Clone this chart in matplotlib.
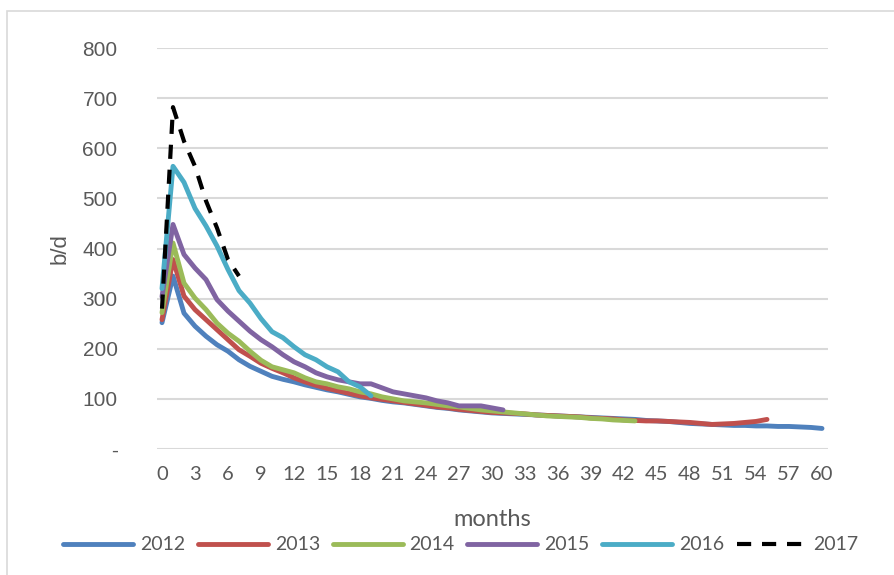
import matplotlib
matplotlib.use("Agg")
import matplotlib.pyplot as plt
from matplotlib.patches import Rectangle
from matplotlib.ticker import FixedLocator, FuncFormatter

series_names = ["2012", "2013", "2014", "2015", "2016", "2017"]

v2012 = [252, 345, 271, 245, 225, 208, 195, 178, 165, 155, 145, 139, 134, 128, 123, 118,
         114, 109, 104, 101, 97, 94, 92, 89, 86, 83, 81, 78, 76, 74, 72, 71, 70, 69, 68,
         67, 66, 65, 64, 63, 62, 61, 60, 59, 57, 56, 55, 53, 51, 50, 49, 48, 47, 47, 46,
         46, 45, 45, 44, 43, 41]
v2013 = [258, 378, 305, 278, 258, 238, 218, 198, 185, 171, 161, 152, 142, 134, 127, 121,
         116, 111, 106, 102, 99, 96, 93, 90, 87, 84, 82, 79, 77, 75, 73, 72, 71, 70, 68,
         67, 66, 65, 64, 62, 61, 60, 58, 57, 56, 56, 55, 54, 53, 51, 49, 50, 51, 53, 55, 59]
v2014 = [272, 411, 331, 301, 278, 251, 231, 215, 195, 177, 164, 158, 152, 142, 134, 130,
         124, 120, 114, 110, 104, 100, 96, 94, 92, 89, 86, 84, 81, 78, 76, 74, 72, 70, 68,
         66, 65, 64, 63, 61, 60, 58, 57, 56]
v2015 = [304, 448, 388, 361, 338, 298, 275, 255, 235, 218, 204, 188, 174, 164, 152, 144,
         138, 134, 130, 130, 122, 114, 110, 106, 102, 96, 92, 86, 86, 86, 82, 78]
v2016 = [320, 564, 532, 480, 445, 405, 358, 316, 291, 260, 234, 222, 204, 188, 178, 164,
         154, 134, 124, 106]
v2017 = [280, 682, 614, 564, 495, 441, 378, 345]

all_values = [v2012, v2013, v2014, v2015, v2016, v2017]
colors = ["#4F81BD", "#C0504D", "#9BBB59", "#8064A2", "#4BACC6", "#000000"]

x_ticks = list(range(0, 61, 3))
y_ticks = list(range(0, 801, 100))

W, H = 894, 575
fig = plt.figure(figsize=(W / 100, H / 100), dpi=100)
narrow = ["Lato", "DejaVu Sans"]
regular = ["Liberation Sans", "DejaVu Sans"]
txt_color = "#595959"

# chart-area border (only top and left visible in the crop)
fig.patches.append(Rectangle((7 / W, -0.1), 1.2, 1 - 11 / H + 0.1, transform=fig.transFigure,
                             fill=False, edgecolor="#d9d9d9", linewidth=1.2))

left, right = 156.5 / W, 827.5 / W
bottom, top = 1 - 449 / H, 1 - 48 / H
ax = fig.add_axes([left, bottom, right - left, top - bottom])

for name, vals, c in zip(series_names, all_values, colors):
    xs = list(range(len(vals)))
    if name == "2017":
        ax.plot(xs, vals, color=c, linewidth=3.0, linestyle=(0, (3.4, 2.6)),
                dash_capstyle="butt", label=name, zorder=5)
    else:
        ax.plot(xs, vals, color=c, linewidth=3.5, solid_capstyle="round",
                solid_joinstyle="round", label=name, zorder=3)

ax.set_xlim(-0.5, 60.5)
ax.set_ylim(0, 800)
ax.xaxis.set_major_locator(FixedLocator(x_ticks))
ax.yaxis.set_major_locator(FixedLocator(y_ticks))
ax.yaxis.set_major_formatter(FuncFormatter(lambda v, p: "-" if v == 0 else f"{int(v)}"))
ax.grid(axis="y", color="#d9d9d9", linewidth=1.5)
ax.set_axisbelow(True)
for s in ax.spines.values():
    s.set_visible(False)
ax.tick_params(axis="both", length=0)
ax.tick_params(axis="y", pad=28, labelsize=15, labelcolor=txt_color)
ax.tick_params(axis="x", pad=12, labelsize=14.5, labelcolor=txt_color)
for lab in ax.get_xticklabels():
    lab.set_family(narrow)
for lab in ax.get_yticklabels():
    lab.set_family(regular)

fig.text(60 / W, 1 - 249 / H, "b/d", rotation=90, ha="center", va="center",
         fontsize=16, color=txt_color, family=regular)
fig.text(492 / W, 1 - 519 / H, "months", ha="center", va="center",
         fontsize=17, color=txt_color, family=narrow)

leg = fig.legend(loc="center", bbox_to_anchor=(461 / W, 1 - 545 / H), ncol=6,
                 frameon=False, handlelength=3.6, handletextpad=0.35,
                 columnspacing=0.65, prop={"family": narrow, "size": 14},
                 labelcolor=txt_color, borderaxespad=0, borderpad=0)

fig.savefig("out.png", dpi=100, facecolor="white")
